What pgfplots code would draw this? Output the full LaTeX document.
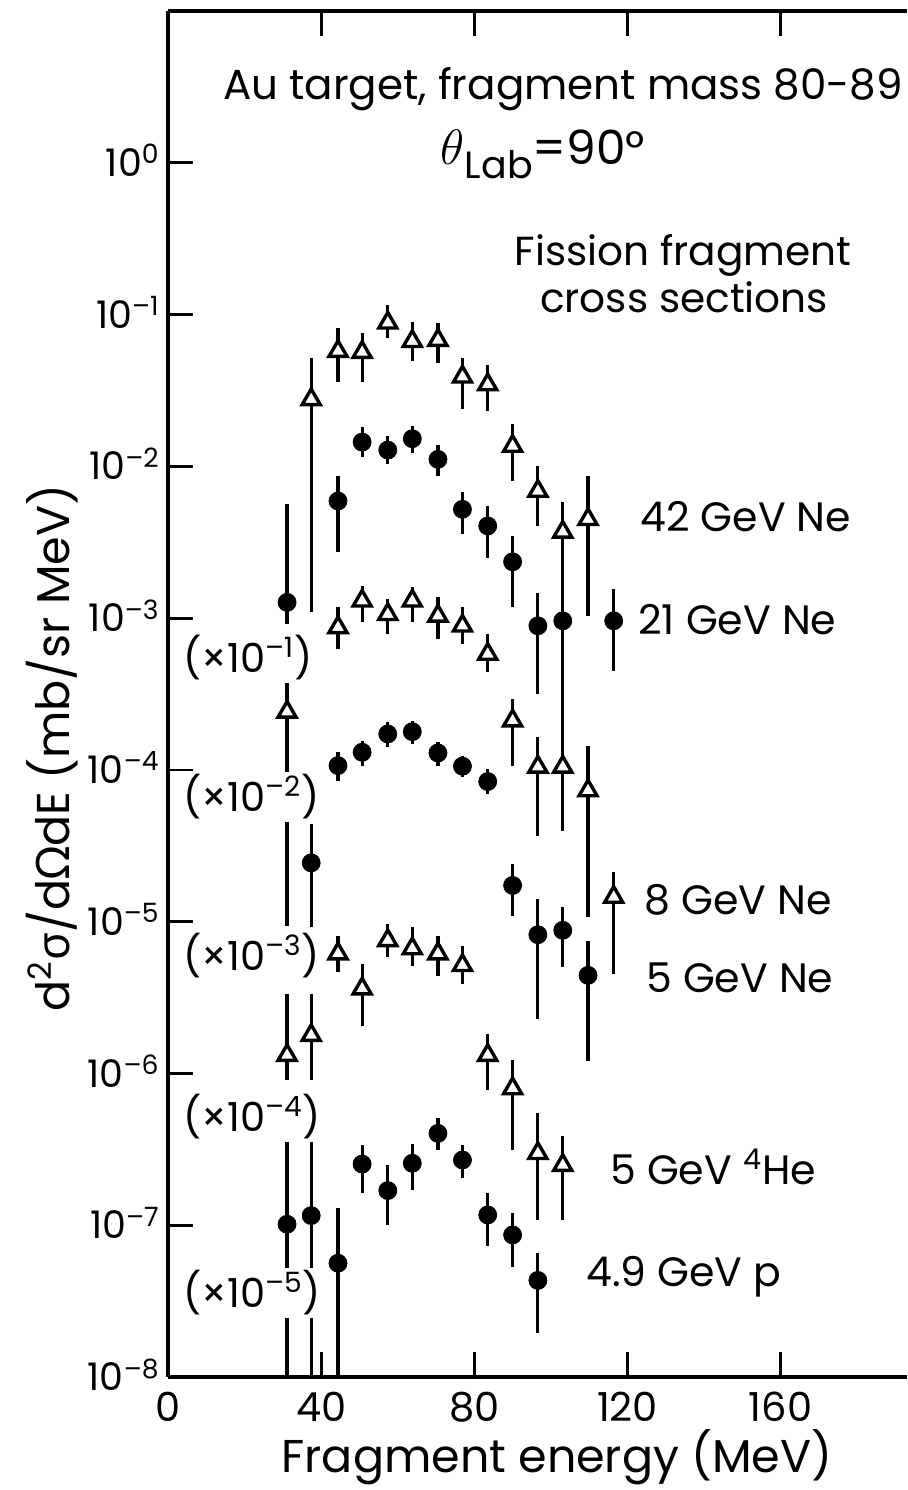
\documentclass[border=0pt]{standalone}
\usepackage{fontspec}
\setmainfont{Poppins}
\newfontfamily\grk{Noto Sans}
\usepackage{pgfplots}
\usepackage{pgfplotstable}
\pgfplotsset{compat=1.18}

% Fission fragment cross sections: x = energy (MeV), y = value, lo/hi = error bar ends
% 42 GeV Ne
\pgfplotstableread{
x     y        lo       hi
37.4  2.76e-2  1.09e-3  5.21e-2
44.4  5.74e-2  3.62e-2  8.21e-2
50.7  5.65e-2  3.62e-2  7.61e-2
57.4  8.82e-2  7.06e-2  1.163e-1
63.8  6.67e-2  4.91e-2  8.99e-2
70.5  6.78e-2  4.83e-2  8.86e-2
76.9  3.89e-2  2.37e-2  5.21e-2
83.5  3.46e-2  2.30e-2  4.62e-2
90.0  1.36e-2  7.96e-3  1.89e-2
96.6  6.88e-3  4.03e-3  1.00e-2
103.1 3.70e-3  1.15e-3  5.80e-3
109.7 4.48e-3  1.03e-3  8.59e-3
}\tabNeFortyTwo
% 21 GeV Ne (x 10^-1)
\pgfplotstableread{
x     y        lo       hi
31.1  1.27e-3  9.13e-4  5.62e-3
44.4  5.91e-3  2.71e-3  8.63e-3
50.7  1.445e-2 1.146e-2 1.805e-2
57.4  1.28e-2  1.031e-2 1.575e-2
63.8  1.521e-2 1.218e-2 1.833e-2
70.5  1.112e-2 8.59e-3  1.374e-2
76.9  5.21e-3  3.57e-3  6.75e-3
83.5  4.05e-3  2.48e-3  5.46e-3
90.0  2.35e-3  1.18e-3  3.46e-3
96.6  8.90e-4  3.16e-4  1.46e-3
103.1 9.60e-4  2.93e-4  1.674e-3
116.4 9.60e-4  4.48e-4  1.55e-3
}\tabNeTwentyOne
% 8 GeV Ne (x 10^-2)
\pgfplotstableread{
x     y        lo       hi
31.1  2.41e-4  9.41e-6  3.85e-4
44.4  8.69e-4  6.25e-4  1.18e-3
50.7  1.30e-3  9.41e-4  1.62e-3
57.4  1.06e-3  7.85e-4  1.33e-3
63.8  1.30e-3  9.41e-4  1.60e-3
70.5  1.035e-3 7.28e-4  1.374e-3
76.9  8.90e-4  6.75e-4  1.18e-3
83.5  5.80e-4  4.41e-4  7.85e-4
90.0  2.11e-4  1.063e-4 2.93e-4
96.6  1.047e-4 3.68e-5  1.65e-4
103.1 1.047e-4 3.97e-5  2.93e-4
109.7 7.31e-5  1.078e-5 1.438e-4
116.4 1.454e-5 4.55e-6  2.13e-5
}\tabNeEight
% 5 GeV Ne (x 10^-3)
\pgfplotstableread{
x     y        lo       hi
37.4  2.44e-5  9.27e-6  4.41e-5
44.4  1.068e-4 8.47e-5  1.313e-4
50.7  1.307e-4 1.063e-4 1.551e-4
57.4  1.725e-4 1.416e-4 2.07e-4
63.8  1.786e-4 1.483e-4 2.10e-4
70.5  1.293e-4 1.063e-4 1.528e-4
76.9  1.058e-4 8.99e-5  1.236e-4
83.5  8.38e-5  6.95e-5  1.015e-4
90.0  1.733e-5 1.095e-5 2.41e-5
96.6  8.21e-6  2.30e-6  1.417e-5
103.1 8.77e-6  5.06e-6  1.255e-5
109.7 4.43e-6  1.20e-6  7.50e-6
}\tabNeFive
% 5 GeV 4He (x 10^-4)
\pgfplotstableread{
x     y        lo       hi
31.1  1.32e-6  8.99e-7  3.36e-6
37.4  1.786e-6 8.99e-7  3.36e-6
44.4  6.16e-6  4.69e-6  8.09e-6
50.7  3.62e-6  2.04e-6  5.29e-6
57.4  7.53e-6  5.88e-6  9.70e-6
63.8  6.65e-6  5.14e-6  9.27e-6
70.5  6.16e-6  4.41e-6  8.09e-6
76.9  5.16e-6  3.91e-6  6.95e-6
83.5  1.32e-6  7.73e-7  1.833e-6
90.0  7.96e-7  3.11e-7  1.218e-6
96.6  2.98e-7  1.078e-7 5.46e-7
103.1 2.49e-7  1.078e-7 3.85e-7
}\tabHe
% 4.9 GeV p (x 10^-5)
\pgfplotstableread{
x     y        lo       hi
31.1  1.015e-7 1.0e-8   3.74e-7
37.4  1.158e-7 1.0e-8   3.74e-7
44.4  5.62e-8  1.0e-8   1.293e-7
50.7  2.53e-7  1.624e-7 3.36e-7
57.4  1.692e-7 1.0e-7   2.48e-7
63.8  2.56e-7  1.70e-7  3.41e-7
70.5  4.03e-7  3.11e-7  5.06e-7
76.9  2.69e-7  2.04e-7  3.36e-7
83.5  1.169e-7 7.28e-8  1.624e-7
90.0  8.63e-8  5.29e-8  1.20e-7
96.6  4.33e-8  1.948e-8 6.54e-8
}\tabP

\newcommand\fs[1]{\fontsize{#1}{#1}\selectfont}
\newcommand\tp[1]{10\textsuperscript{#1}}

\pgfplotsset{
  ebar/.style={only marks, mark=none,
    error bars/y dir=both, error bars/y explicit, error bars/error mark=none,
    error bars/error bar style={line width=1.6pt, black, solid}},
  tri/.style={only marks, mark=triangle*, mark size=5.2pt,
    mark options={fill=white, draw=black, line width=1.7pt, solid}},
  dot/.style={only marks, mark=*, mark size=4.5pt,
    mark options={fill=black, draw=black, solid}},
}
% error bars first, then the markers on top
\newcommand\series[2]{%
  \addplot[ebar] table[x=x, y=y,
    y error plus expr=\thisrow{hi}-\thisrow{y},
    y error minus expr=\thisrow{y}-\thisrow{lo}] {#1};
  \addplot[#2] table[x=x, y=y] {#1};
}

\begin{document}
\begin{tikzpicture}
\useasboundingbox (0,0) rectangle (453.5pt,745pt);
\begin{axis}[
  at={(84pt,56.5pt)}, anchor=south west,
  scale only axis, width=369.5pt, height=683pt,
  xmin=0, xmax=193, ymode=log, ymin=1e-8, ymax=10,
  clip=false,
  axis x line=box, axis y line=left,
  axis line style={line width=1.9pt, -},
  tick align=inside,
  major tick length=12.5pt, minor tick length=0pt,
  tick style={line width=1.4pt, black},
  xtick={0,40,80,120,160}, xticklabels={0,40,80,120,160},
  ytick={1e-8,1e-7,1e-6,1e-5,1e-4,1e-3,1e-2,1e-1,1},
  yticklabels={\tp{–8},\tp{–7},\tp{–6},\tp{–5},\tp{–4},\tp{–3},\tp{–2},\tp{–1},\tp{0}},
  xticklabel style={font=\fs{20}, anchor=north, inner sep=0pt, yshift=-7.5pt},
  yticklabel style={font=\fs{19}, anchor=base east, inner sep=0pt, xshift=-4pt, yshift=-6.8pt},
]
\series{\tabNeFortyTwo}{tri}
\series{\tabNeTwentyOne}{dot}
\series{\tabNeEight}{tri}
\series{\tabNeFive}{dot}
\series{\tabHe}{tri}
\series{\tabP}{dot}
\end{axis}

\begin{scope}[shift={(0pt,745pt)}, x=0.5pt, y=-0.5pt]
  \node[anchor=base, font=\fs{21}, inner sep=0pt] at (563,100) {Au target, fragment mass 80-89};
  \node[anchor=base, font=\fs{23.5}, inner sep=0pt] at (543,165)
    {{\fs{28}$\theta$}\raisebox{-7pt}{\fs{19}Lab}=90°};
  \node[anchor=base, font=\fs{20.3}, inner sep=0pt] at (683,266) {Fission fragment};
  \node[anchor=base, font=\fs{20.3}, inner sep=0pt] at (684,313) {cross sections};

  \node[anchor=base west, font=\fs{20.5}, inner sep=0pt] at (640,532) {42 GeV Ne};
  \node[anchor=base west, font=\fs{20.5}, inner sep=0pt] at (638,635) {21 GeV Ne};
  \node[anchor=base west, font=\fs{20.5}, inner sep=0pt] at (644,915) {8 GeV Ne};
  \node[anchor=base west, font=\fs{20.5}, inner sep=0pt] at (646,993) {5 GeV Ne};
  \node[anchor=base west, font=\fs{20.5}, inner sep=0pt] at (610,1185) {5 GeV \textsuperscript{4}He};
  \node[anchor=base west, font=\fs{20.5}, inner sep=0pt] at (586,1287) {4.9 GeV p};

  \foreach \yy/\e in {673/1, 812/2, 971/3, 1132/4, 1308/5}
    \node[anchor=base west, font=\fs{20}, fill=white, inner sep=1.5pt] at (180,\yy) {(×\tp{–\e})};

  \node[anchor=base, font=\fs{23}, inner sep=0pt] at (557,1472) {Fragment energy (MeV)};
  \node[rotate=90, anchor=center, font=\fs{23}, inner sep=0pt] at (52,748)
    {d\textsuperscript{2}{\grk σ}/d{\grk Ω}dE (mb/sr MeV)};
\end{scope}
\end{tikzpicture}
\end{document}
